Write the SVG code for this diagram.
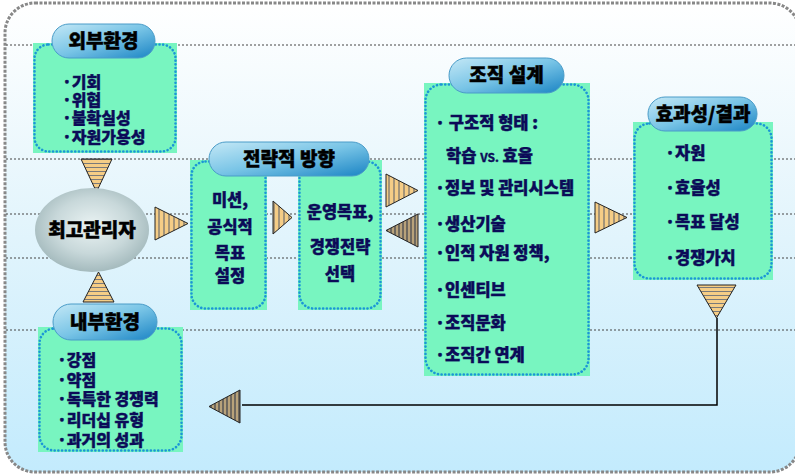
<svg xmlns="http://www.w3.org/2000/svg" width="795" height="475" viewBox="0 0 795 475">
<defs>
<linearGradient id="bg" x1="0" y1="0" x2="0" y2="1">
<stop offset="0" stop-color="#ffffff"/>
<stop offset="0.45" stop-color="#e4f5fc"/>
<stop offset="1" stop-color="#c3ebfd"/>
</linearGradient>
<linearGradient id="pg" x1="0" y1="0" x2="1" y2="1">
<stop offset="0" stop-color="#c4e8f6"/>
<stop offset="0.5" stop-color="#78c4e6"/>
<stop offset="1" stop-color="#1a84c4"/>
</linearGradient>
<radialGradient id="eg" cx="0.5" cy="0.45" r="0.55">
<stop offset="0" stop-color="#eaf3f3"/>
<stop offset="0.6" stop-color="#c8d8da"/>
<stop offset="1" stop-color="#a4babd"/>
</radialGradient>
<pattern id="hs" width="6" height="4" patternUnits="userSpaceOnUse">
<rect width="6" height="4" fill="#f5cd86"/>
<line x1="0" y1="3.5" x2="6" y2="3.5" stroke="#7a7a7a" stroke-width="1"/>
</pattern>
<pattern id="vs" width="5" height="6" patternUnits="userSpaceOnUse">
<rect width="5" height="6" fill="#f5cd86"/>
<line x1="4" y1="0" x2="4" y2="6" stroke="#6e6e6e" stroke-width="1.2"/>
</pattern>
<pattern id="vsd" width="4" height="6" patternUnits="userSpaceOnUse">
<rect width="4" height="6" fill="#b8a27a"/>
<line x1="3" y1="0" x2="3" y2="6" stroke="#555" stroke-width="1.5"/>
</pattern>
</defs>
<style>
.fill{fill:#78f5c0}
.dot{fill:none;stroke:#1b96d6;stroke-width:2.6;stroke-dasharray:0.1 3.6;stroke-linecap:round}
.pill{fill:url(#pg);stroke:#4a9cc8;stroke-width:1}
.pt{font-family:"Noto Sans CJK KR","Noto Sans",sans-serif;font-weight:900;font-size:19px;fill:#000;stroke:#000;stroke-width:0.5;text-anchor:middle}
.t{font-family:"Noto Sans CJK KR","Noto Sans",sans-serif;font-weight:900;font-size:16.5px;fill:#0b0b58;stroke:#0b0b58;stroke-width:0.4}
.s{font-size:16px}
.c{text-anchor:middle}
.grid{stroke:#444;stroke-width:1;stroke-dasharray:2 2}
.tri{stroke:#222;stroke-width:1}
.ln{fill:none;stroke:#000;stroke-width:1.5}
</style>
<rect width="795" height="475" fill="#ffffff"/>
<rect x="5" y="3" width="795" height="469" rx="30" fill="url(#bg)" stroke="#888" stroke-width="3" stroke-dasharray="3 1.5"/>
<g id="grid">
<line class="grid" x1="6" y1="45" x2="795" y2="45"/>
<line class="grid" x1="6" y1="159" x2="795" y2="159"/>
<line class="grid" x1="6" y1="214" x2="795" y2="214"/>
<line class="grid" x1="6" y1="258" x2="795" y2="258"/>
<line class="grid" x1="6" y1="330" x2="795" y2="330"/>
</g>
<g id="connectors">
<polyline class="ln" points="717,318 717,405 242,405"/>
<polygon class="tri" points="81,159 112,159 96.5,192" fill="url(#hs)"/>
<polygon class="tri" points="83,302 114,302 98.5,272" fill="url(#hs)"/>
<polygon class="tri" points="155,207 155,240 188,223.5" fill="url(#vs)"/>
<polygon class="tri" points="273,201 273,234 292,217.5" fill="url(#vs)"/>
<polygon class="tri" points="386,174 386,207 418,190.5" fill="url(#vs)"/>
<polygon class="tri" points="418,214 418,247 386,230.5" fill="url(#vsd)"/>
<polygon class="tri" points="595,202 595,233 627,217.5" fill="url(#vs)"/>
<polygon class="tri" points="697,285 736,285 716.5,318" fill="url(#hs)"/>
<polygon class="tri" points="240,390 240,423 209,406.5" fill="url(#vsd)"/>
</g>
<g id="external">
<rect class="fill" x="33" y="43" width="144" height="110"/>
<rect class="dot" x="34.5" y="44.5" width="141" height="107" rx="14"/>
<rect class="pill" x="52" y="24" width="103" height="34" rx="17"/>
<text class="pt" x="103.5" y="48">외부환경</text>
<text class="t s" x="62" y="88">·기회</text>
<text class="t s" x="62" y="106">·위협</text>
<text class="t s" x="62" y="124">·불확실성</text>
<text class="t s" x="62" y="143">·자원가용성</text>
</g>
<g id="top-manager">
<ellipse cx="92" cy="230" rx="57" ry="42" fill="url(#eg)"/>
<text class="pt" x="92" y="237">최고관리자</text>
</g>
<g id="internal">
<rect class="fill" x="38" y="327" width="145" height="125"/>
<rect class="dot" x="39.5" y="328.5" width="142" height="122" rx="15"/>
<rect class="pill" x="53" y="304" width="104" height="36" rx="18"/>
<text class="pt" x="105" y="329">내부환경</text>
<text class="t s" x="57" y="366">·강점</text>
<text class="t s" x="57" y="386">·약점</text>
<text class="t s" x="57" y="405">·독특한 경쟁력</text>
<text class="t s" x="57" y="426">·리더십 유형</text>
<text class="t s" x="57" y="446">·과거의 성과</text>
</g>
<g id="strategy">
<rect class="fill" x="190" y="160" width="77" height="150"/>
<rect class="dot" x="191.5" y="161.5" width="74" height="147" rx="14"/>
<rect class="fill" x="298" y="160" width="84" height="150"/>
<rect class="dot" x="299.5" y="161.5" width="81" height="147" rx="14"/>
<rect class="pill" x="209" y="142" width="160" height="34" rx="17"/>
<text class="pt" x="289" y="166">전략적 방향</text>
<text class="t c" x="230" y="206">미션,</text>
<text class="t c" x="230" y="233">공식적</text>
<text class="t c" x="230" y="259">목표</text>
<text class="t c" x="230" y="282">설정</text>
<text class="t c" x="340" y="218">운영목표,</text>
<text class="t c" x="340" y="253">경쟁전략</text>
<text class="t c" x="340" y="280">선택</text>
</g>
<g id="org-design">
<rect class="fill" x="424" y="83" width="166" height="293"/>
<rect class="dot" x="425.5" y="84.5" width="163" height="290" rx="16"/>
<rect class="pill" x="449" y="58" width="115" height="35" rx="17.5"/>
<text class="pt" x="506.5" y="82">조직 설계</text>
<text class="t" x="435" y="129">· 구조적 형태 :</text>
<text class="t" x="446" y="162">학습 <tspan font-size="12" font-weight="700">VS.</tspan> 효율</text>
<text class="t" x="435" y="194">·정보 및 관리시스템</text>
<text class="t" x="435" y="230">·생산기술</text>
<text class="t" x="435" y="259">·인적 자원 정책,</text>
<text class="t" x="435" y="296">·인센티브</text>
<text class="t" x="435" y="329">·조직문화</text>
<text class="t" x="435" y="361">·조직간 연계</text>
</g>
<g id="effectiveness">
<rect class="fill" x="633" y="122" width="140" height="158"/>
<rect class="dot" x="634.5" y="123.5" width="137" height="155" rx="15"/>
<rect class="pill" x="648" y="97" width="109" height="34" rx="17"/>
<text class="pt" x="703" y="121">효과성/결과</text>
<text class="t" x="665" y="159">·자원</text>
<text class="t" x="665" y="194">·효율성</text>
<text class="t" x="665" y="228">·목표 달성</text>
<text class="t" x="665" y="264">·경쟁가치</text>
</g>
</svg>
